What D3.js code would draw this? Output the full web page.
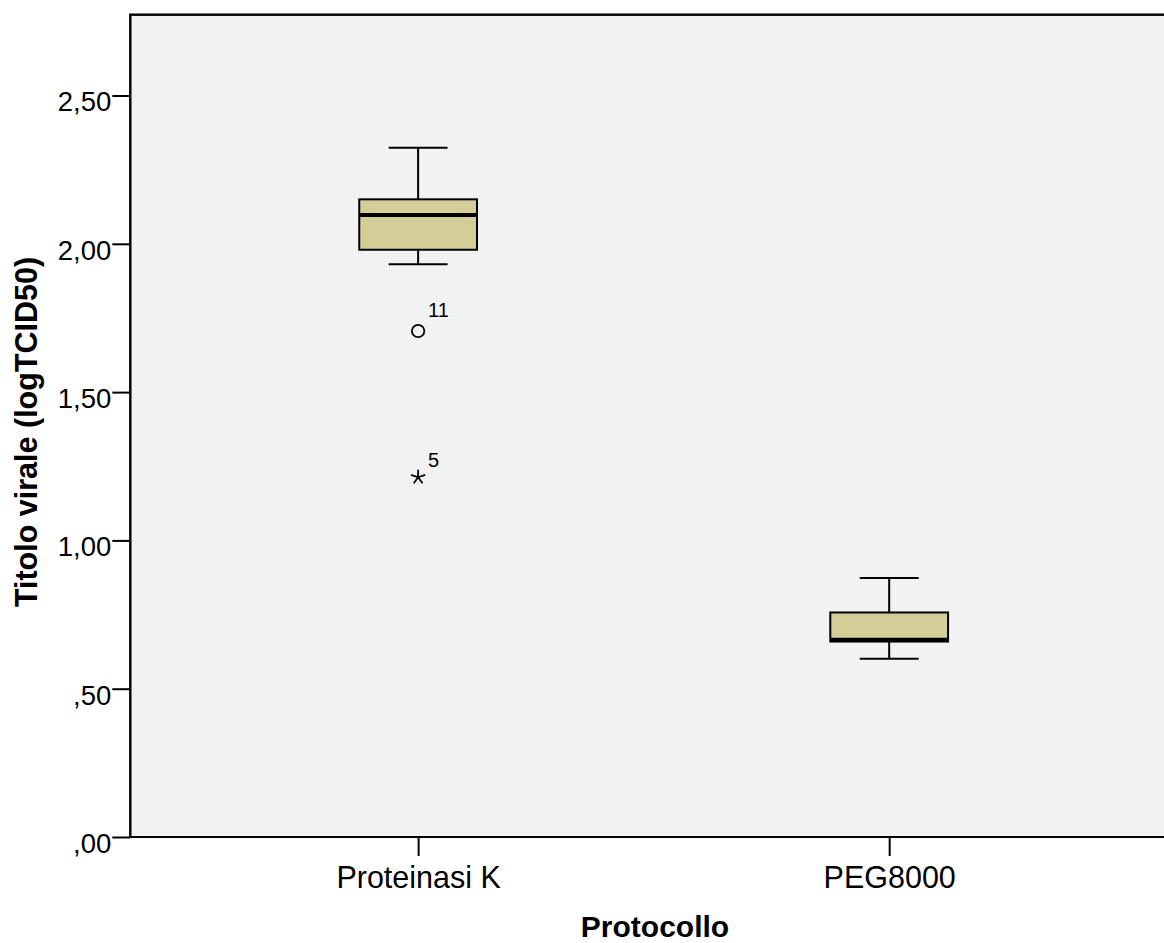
<!DOCTYPE html>
<style>
  body { margin: 0; background: white; }
  svg { font-family: "Liberation Sans", Arial, sans-serif; }
</style>
<body>
</body>
<script src="https://cdn.jsdelivr.net/npm/d3@7"></script>
<script>
  // box statistics, one entry per protocol
  const categories = ['Proteinasi K', 'PEG8000'];
  const whiskerLow = [1.931, 0.601];
  const q1 = [1.980, 0.659];
  const median = [2.097, 0.665];
  const q3 = [2.150, 0.757];
  const whiskerHigh = [2.324, 0.873];

  // outliers: circle = mild, star = extreme
  const outlierGroup = ['Proteinasi K', 'Proteinasi K'];
  const outlierValue = [1.706, 1.213];
  const outlierLabel = ['11', '5'];
  const outlierKind = ['circle', 'star'];

  const yTicks = [0, 0.5, 1, 1.5, 2, 2.5];

  const w = 1164, h = 943;
  const l = 130.3, r = 1177, t = 14.7, b = 837;

  const svg = d3.select('body').append('svg')
    .attr('width', w)
    .attr('height', h);

  const x = d3.scalePoint().domain(categories).range([l, r]).padding(0.611);
  const y = d3.scaleLinear().domain([0, 2.7725]).range([b, t]);

  const boxW = x.step() * 0.25;

  svg.append('rect')
    .attr('x', l).attr('y', t)
    .attr('width', r - l).attr('height', b - t)
    .attr('fill', '#f2f2f2')
    .attr('stroke', 'black')
    .attr('stroke-width', 2);

  const fmt = v => d3.format('.2f')(v).replace('.', ',').replace(/^0/, '');

  const yAx = svg.append('g')
    .attr('transform', `translate(${l}, 0)`)
    .call(d3.axisLeft(y).tickValues(yTicks).tickFormat(fmt).tickSize(18).tickSizeOuter(0).tickPadding(1));
  yAx.select('.domain').remove();
  yAx.selectAll('line').attr('stroke', 'black').attr('stroke-width', 2);
  yAx.selectAll('text')
    .attr('fill', 'black')
    .attr('font-size', 27.5)
    .attr('font-family', '"Liberation Sans", Arial, sans-serif')
    .attr('dy', '0.56em');

  const xAx = svg.append('g')
    .attr('transform', `translate(0, ${b})`)
    .call(d3.axisBottom(x).tickSize(19).tickSizeOuter(0).tickPadding(10));
  xAx.select('.domain').remove();
  xAx.selectAll('line').attr('stroke', 'black').attr('stroke-width', 2);
  xAx.selectAll('text')
    .attr('fill', 'black')
    .attr('font-size', 30.5)
    .attr('font-family', '"Liberation Sans", Arial, sans-serif');

  // frame drawn again on top so the axis lines sit cleanly
  svg.append('rect')
    .attr('x', l).attr('y', t)
    .attr('width', r - l).attr('height', b - t)
    .attr('fill', 'none')
    .attr('stroke', 'black')
    .attr('stroke-width', 2);

  const boxes = svg.append('g')
    .selectAll('g')
    .data(categories)
    .join('g');

  // whiskers
  boxes.append('line')
    .attr('x1', d => x(d)).attr('x2', d => x(d))
    .attr('y1', (d, i) => y(whiskerHigh[i])).attr('y2', (d, i) => y(q3[i]));
  boxes.append('line')
    .attr('x1', d => x(d)).attr('x2', d => x(d))
    .attr('y1', (d, i) => y(q1[i])).attr('y2', (d, i) => y(whiskerLow[i]));
  boxes.append('line')
    .attr('x1', d => x(d) - boxW / 4).attr('x2', d => x(d) + boxW / 4)
    .attr('y1', (d, i) => y(whiskerHigh[i])).attr('y2', (d, i) => y(whiskerHigh[i]));
  boxes.append('line')
    .attr('x1', d => x(d) - boxW / 4).attr('x2', d => x(d) + boxW / 4)
    .attr('y1', (d, i) => y(whiskerLow[i])).attr('y2', (d, i) => y(whiskerLow[i]));
  boxes.selectAll('line').attr('stroke', 'black').attr('stroke-width', 2);

  boxes.append('rect')
    .attr('x', d => x(d) - boxW / 2)
    .attr('width', boxW)
    .attr('y', (d, i) => y(q3[i]))
    .attr('height', (d, i) => y(q1[i]) - y(q3[i]))
    .attr('fill', '#d3ce97')
    .attr('stroke', 'black')
    .attr('stroke-width', 2);

  boxes.append('line')
    .attr('x1', d => x(d) - boxW / 2).attr('x2', d => x(d) + boxW / 2)
    .attr('y1', (d, i) => y(median[i])).attr('y2', (d, i) => y(median[i]))
    .attr('stroke', 'black')
    .attr('stroke-width', 4);

  // outliers
  const star = d3.path();
  for (let k = 0; k < 5; k++) {
    const a = -Math.PI / 2 + k * 2 * Math.PI / 5;
    star.moveTo(0, 0);
    star.lineTo(7.5 * Math.cos(a), 7.5 * Math.sin(a));
  }

  const outs = svg.append('g')
    .selectAll('g')
    .data(outlierValue)
    .join('g')
    .attr('transform', (d, i) => `translate(${x(outlierGroup[i])}, ${y(d)})`);

  outs.filter((d, i) => outlierKind[i] === 'circle')
    .append('circle')
    .attr('r', 6.2)
    .attr('fill', 'none')
    .attr('stroke', 'black')
    .attr('stroke-width', 1.8);

  outs.filter((d, i) => outlierKind[i] === 'star')
    .append('path')
    .attr('d', star.toString())
    .attr('fill', 'none')
    .attr('stroke', 'black')
    .attr('stroke-width', 1.8);

  outs.append('text')
    .attr('x', 10)
    .attr('y', (d, i) => outlierKind[i] === 'circle' ? -14 : -10)
    .attr('font-size', 20)
    .attr('fill', 'black')
    .text((d, i) => outlierLabel[i]);

  // axis titles
  svg.append('text')
    .attr('x', 655)
    .attr('y', 937)
    .attr('text-anchor', 'middle')
    .attr('font-weight', 'bold')
    .attr('font-size', 30)
    .text('Protocollo');

  svg.append('text')
    .attr('transform', 'translate(37, 432) rotate(-90)')
    .attr('text-anchor', 'middle')
    .attr('font-weight', 'bold')
    .attr('font-size', 30.5)
    .text('Titolo virale (logTCID50)');
</script>
